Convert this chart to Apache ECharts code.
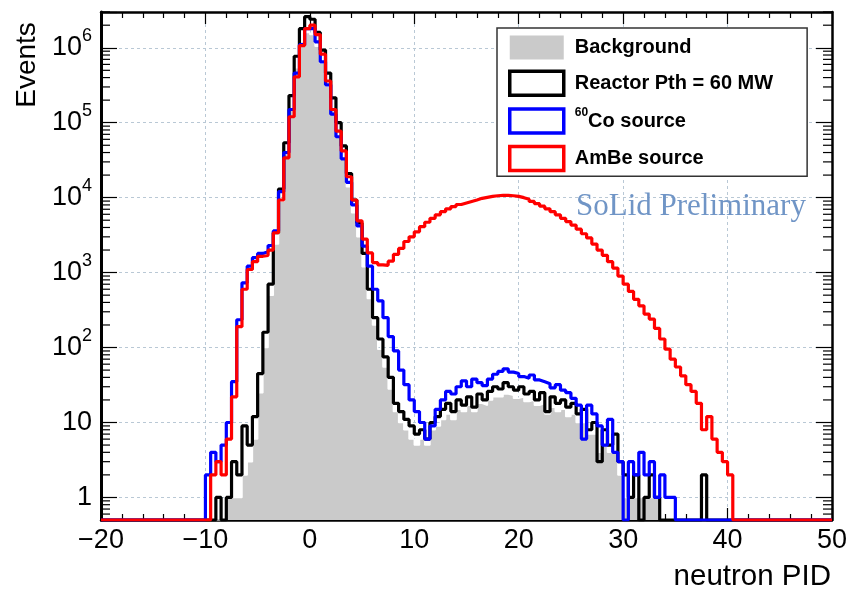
<!DOCTYPE html>
<html>
<head>
<meta charset="utf-8">
<script src="https://cdn.jsdelivr.net/npm/echarts@6/dist/echarts.min.js"></script>
<style>
html,body{margin:0;padding:0;background:#fff;}
#chart{width:846px;height:590px;}
</style>
</head>
<body>
<div id="chart"></div>
<script>
// ---------------- data ----------------
const binEdgeMin = -20;
const binEdgeMax = 50;
const binWidth = 0.5;

const seriesNames = ['Background', 'Reactor Pth = 60 MW', '60Co source', 'AmBe source'];

// Background (grey filled), first bin left edge = -8.0
const backgroundStart = -8.0;
const backgroundCounts = [
  1, 1, 1, 2, 3, 6, 25, 100, 500, 2400,
  9000, 38000, 160000, 540000, 1200000, 1600000, 1500000, 1050000, 620000, 310000,
  145000, 68000, 33000, 14000, 6300, 3000, 1200, 450, 200, 95,
  55, 28, 14, 10, 8, 6, 5, 6, 5, 8,
  9, 11, 13, 11, 15, 14, 17, 14, 18, 17,
  20, 22, 22, 24, 23, 21, 22, 19, 20, 17,
  18, 13, 16, 14, 15, 12, 13, 10, 10, 7,
  7, 4, 5, 4, 4, 2, 1, 1, 1, 1,
  1, 1, 1
];

// Reactor Pth = 60 MW (black), first bin left edge = -9.0
const reactorStart = -9.0;
const reactorCounts = [
  1, 0, 1, 3, 2, 9, 5, 12, 45, 160,
  700, 3400, 13000, 54000, 230000, 770000, 1800000, 2600000, 2400000, 1600000,
  930000, 460000, 215000, 100000, 49000, 21000, 9300, 4600, 1800, 600,
  250, 130, 75, 40, 18, 14, 11, 9, 7, 8,
  6, 10, 12, 15, 18, 14, 20, 17, 22, 16,
  24, 20, 26, 30, 28, 34, 30, 27, 30, 24,
  26, 20, 25, 14, 22, 18, 20, 16, 18, 13,
  15, 8, 10, 3, 8, 5, 7, 3, 2, 1,
  2, 0, 1, 2, 1, 0, 0, 0, 0, 0,
  0, 0, 0, 2
];

// 60Co source (blue), first bin left edge = -10.0
const co60Start = -10.0;
const co60Counts = [
  2, 4, 3, 5, 10, 35, 235, 730, 1220, 1580,
  1800, 1900, 2300, 3600, 12000, 40000, 150000, 460000, 1100000, 1800000,
  1800000, 1200000, 650000, 320000, 130000, 65000, 33000, 16000, 8000, 4200,
  2250, 1220, 600, 420, 250, 140, 90, 50, 32, 20,
  14, 10, 6, 9, 15, 20, 26, 24, 30, 36,
  30, 38, 34, 31, 38, 44, 48, 52, 47, 45,
  41, 39, 43, 37, 35, 33, 29, 32, 27, 25,
  21, 17, 6, 17, 13, 9, 5, 11, 4, 3,
  0, 3, 2, 4, 2, 3, 1, 2, 1, 1
];

// AmBe source (red), first bin left edge = -9.5
const ambeStart = -9.5;
const ambeCounts = [
  2, 3, 2, 6, 22, 190, 600, 1100, 1400, 1650,
  1700, 2000, 3400, 9300, 34000, 120000, 410000, 1070000, 1800000, 2000000,
  1500000, 820000, 360000, 150000, 77000, 42000, 19000, 9300, 4900, 2800,
  1830, 1360, 1270, 1250, 1420, 1750, 2100, 2600, 3000, 3500,
  4100, 4700, 5300, 5900, 6500, 7100, 7600, 8100, 8500, 8900,
  9300, 9800, 10100, 10400, 10600, 10700, 10700, 10600, 10400, 10000,
  9500, 8900, 8300, 7700, 7100, 6500, 5900, 5300, 4800, 4300,
  3800, 3300, 2900, 2400, 2000, 1700, 1400, 1150, 900, 700,
  560, 440, 360, 280, 240, 180, 130, 95, 70, 55,
  42, 32, 26, 18, 8, 12, 6, 4, 3, 2
];

// axes
const xMin = -20, xMax = 50, xMajor = 10;
const yMin = 0.5, yMax = 3e6;
const yMinorTicks = [
  0.6, 0.7, 0.8, 0.9,
  2, 3, 4, 5, 6, 7, 8, 9,
  20, 30, 40, 50, 60, 70, 80, 90,
  200, 300, 400, 500, 600, 700, 800, 900,
  2000, 3000, 4000, 5000, 6000, 7000, 8000, 9000,
  20000, 30000, 40000, 50000, 60000, 70000, 80000, 90000,
  200000, 300000, 400000, 500000, 600000, 700000, 800000, 900000,
  2000000, 3000000
];

// ---------------- build ----------------
const FONT = '"Liberation Sans", Arial, Helvetica, sans-serif';

function histPoints(start, counts) {
  const n = Math.round((binEdgeMax - binEdgeMin) / binWidth);
  const pts = [];
  let last = yMin;
  for (let k = 0; k < n; k++) {
    const edge = binEdgeMin + k * binWidth;
    const idx = Math.round((edge - start) / binWidth);
    const c = (idx >= 0 && idx < counts.length) ? counts[idx] : 0;
    const v = c > 0 ? c : yMin; // empty bins are drawn on the axis floor
    pts.push([edge, v]);
    last = v;
  }
  pts.push([binEdgeMax, last]);
  return pts;
}

const gridColor = '#b9c8d5';
const chart = echarts.init(document.getElementById('chart'), null, {renderer: 'canvas'});

function xLabel(v) {
  return v < 0 ? '\u2212' + Math.abs(v) : String(v);
}
function yLabel(v) {
  const l = Math.log10(v);
  const e = Math.round(l);
  if (Math.abs(l - e) > 1e-6 || e < 0) return '';
  if (e === 0) return '1';
  if (e === 1) return '10';
  return '10{sup|' + e + '}';
}

const lineSeries = (name, color, start, counts, z) => ({
  name: name,
  type: 'line',
  step: 'end',
  symbol: 'none',
  data: histPoints(start, counts),
  lineStyle: {color: color, width: 3.2},
  itemStyle: {color: color},
  z: z,
  animation: false
});

const option = {
  animation: false,
  backgroundColor: '#ffffff',
  grid: {left: 101, right: 14, top: 12, bottom: 70, outerBoundsMode: 'none', containLabel: false},
  xAxis: [
    {
      type: 'value', position: 'bottom', min: xMin, max: xMax, interval: xMajor,
      axisLine: {show: true, onZero: false, lineStyle: {color: '#000', width: 2.5}},
      axisTick: {show: true, inside: true, length: 12, lineStyle: {color: '#000', width: 1.2}},
      minorTick: {show: true, splitNumber: 5, length: 6, lineStyle: {color: '#000', width: 1.2}},
      splitLine: {show: true, lineStyle: {color: gridColor, type: [3, 3], width: 1}},
      axisLabel: {formatter: xLabel, fontFamily: FONT, fontSize: 27, color: '#000', margin: 7}
    },
    {
      type: 'value', position: 'top', min: xMin, max: xMax, interval: xMajor,
      axisLine: {show: true, onZero: false, lineStyle: {color: '#000', width: 2.5}},
      axisTick: {show: true, inside: true, length: 12, lineStyle: {color: '#000', width: 1.2}},
      minorTick: {show: true, splitNumber: 5, length: 6, lineStyle: {color: '#000', width: 1.2}},
      splitLine: {show: false},
      axisLabel: {show: false}
    }
  ],
  yAxis: [
    {
      type: 'log', logBase: 10, position: 'left', min: yMin, max: yMax,
      axisLine: {show: true, onZero: false, lineStyle: {color: '#000', width: 3}},
      axisTick: {show: true, inside: true, length: 16, lineStyle: {color: '#000', width: 1.2}},
      splitLine: {show: true, lineStyle: {color: gridColor, type: [3, 3], width: 1}},
      axisLabel: {
        formatter: yLabel, fontFamily: FONT, fontSize: 27, color: '#000', margin: 9,
        lineHeight: 42,
        rich: {sup: {fontFamily: FONT, fontSize: 18, color: '#000', lineHeight: 18, verticalAlign: 'top'}}
      }
    },
    {
      type: 'log', logBase: 10, position: 'right', min: yMin, max: yMax,
      axisLine: {show: true, onZero: false, lineStyle: {color: '#000', width: 2.5}},
      axisTick: {show: true, inside: true, length: 16, lineStyle: {color: '#000', width: 1.2}},
      splitLine: {show: false},
      axisLabel: {show: false}
    }
  ],
  legend: {
    orient: 'vertical',
    left: 497, top: 28,
    selectedMode: false,
    backgroundColor: '#ffffff',
    borderColor: '#333',
    borderWidth: 1.5,
    padding: [7.5, 34, 4, 11],
    itemWidth: 54, itemHeight: 24, itemGap: 10,
    textStyle: {
      fontFamily: FONT, fontSize: 20, fontWeight: 'bold', color: '#000',
      rich: {
        t: {fontFamily: FONT, fontSize: 20, fontWeight: 'bold', color: '#000', lineHeight: 28, padding: [0, 0, 0, 6]},
        c: {fontFamily: FONT, fontSize: 20, fontWeight: 'bold', color: '#000', lineHeight: 28},
        s: {fontFamily: FONT, fontSize: 12, fontWeight: 'bold', color: '#000', lineHeight: 12, verticalAlign: 'top', padding: [0, 0, 0, 6]}
      }
    },
    formatter: function (name) {
      if (name === '60Co source') return '{s|60}{c|Co source}';
      return '{t|' + name + '}';
    },
    data: [
      {name: seriesNames[0], icon: 'rect', itemStyle: {color: '#cacaca', borderWidth: 0}},
      {name: seriesNames[1], icon: 'rect', itemStyle: {color: '#ffffff', borderColor: '#000000', borderWidth: 3.5}},
      {name: seriesNames[2], icon: 'rect', itemStyle: {color: '#ffffff', borderColor: '#0000ff', borderWidth: 3.5}},
      {name: seriesNames[3], icon: 'rect', itemStyle: {color: '#ffffff', borderColor: '#ff0000', borderWidth: 3.5}}
    ]
  },
  graphic: [
    {type: 'text', x: 27, y: 65, rotation: Math.PI / 2, style: {text: 'Events', fontFamily: FONT, fontSize: 28, fill: '#000', align: 'center', verticalAlign: 'middle'}},
    {type: 'text', x: 831, y: 577, style: {text: 'neutron PID', fontFamily: FONT, fontSize: 29.5, fill: '#000', align: 'right', verticalAlign: 'middle'}},
    {type: 'text', x: 576, y: 207, style: {text: 'SoLid Preliminary', fontFamily: '"Liberation Serif", "Times New Roman", serif', fontSize: 31, fill: '#7095c6', align: 'left', verticalAlign: 'middle'}, z: 100}
  ],
  series: [
    {
      name: seriesNames[0],
      type: 'line',
      step: 'end',
      symbol: 'none',
      data: histPoints(backgroundStart, backgroundCounts),
      lineStyle: {color: '#ffffff', width: 1.5},
      itemStyle: {color: '#cacaca'},
      areaStyle: {color: '#cacaca', opacity: 1, origin: 'start'},
      z: 1
    },
    lineSeries(seriesNames[1], '#000000', reactorStart, reactorCounts, 3),
    lineSeries(seriesNames[2], '#0000ff', co60Start, co60Counts, 4),
    lineSeries(seriesNames[3], '#ff0000', ambeStart, ambeCounts, 5),
    {
      name: 'yMinorTicks',
      type: 'custom',
      silent: true,
      clip: false,
      z: 10,
      data: yMinorTicks.map(v => [xMin, v]),
      renderItem: function (params, api) {
        const v = api.value(1);
        const p = api.coord([xMin, v]);
        const q = api.coord([xMax, v]);
        const st = {stroke: '#000', lineWidth: 1.2};
        return {
          type: 'group',
          children: [
            {type: 'line', shape: {x1: p[0], y1: p[1], x2: p[0] + 9, y2: p[1]}, style: st},
            {type: 'line', shape: {x1: q[0] - 9, y1: q[1], x2: q[0], y2: q[1]}, style: st}
          ]
        };
      }
    }
  ]
};
chart.setOption(option);
</script>
</body>
</html>
